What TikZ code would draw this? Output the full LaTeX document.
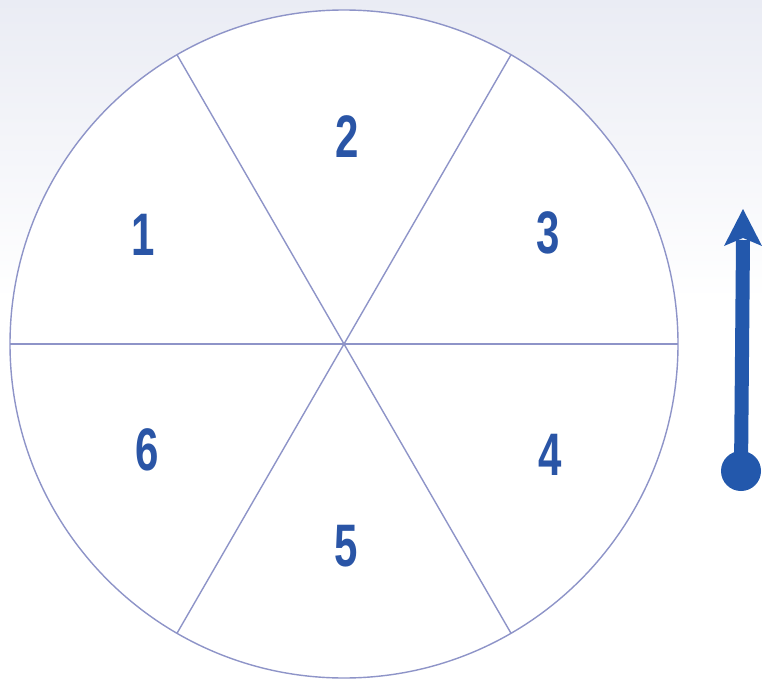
\documentclass[tikz,border=0pt]{standalone}
\usepackage{fontspec}
\setmainfont{Liberation Sans}
\usetikzlibrary{calc}
\definecolor{bgtop}{HTML}{EAECF4}
\definecolor{linec}{HTML}{8E94C8}
\definecolor{numc}{HTML}{2A55A6}
\definecolor{arrc}{HTML}{2358AC}
\begin{document}
\begin{tikzpicture}[x=1pt,y=-1pt,
  numlabel/.style={text=numc,font=\fontsize{60}{60}\selectfont\bfseries,inner sep=0pt},
  divline/.style={draw=linec,line width=1.4pt}]
\useasboundingbox (0,0) rectangle (762,679);
\shade[top color=bgtop,bottom color=white] (0,0) rectangle (762,300);
\fill[white] (0,300) rectangle (762,679);
\coordinate (c) at (344,344);
\fill[white] (c) circle[radius=334];
\foreach \a/\n in {0/e,60/a,120/b,180/w,240/d,300/f}
  \coordinate (p\n) at ($(c)+(\a:334)$);
\draw[divline] (pw) -- (pe);
\draw[divline] (pb) -- (pf);
\draw[divline] (pa) -- (pd);
\draw[divline] (c) circle[radius=334];
\node[numlabel] (n1) at (143,235) {\scalebox{0.7}[1]{1}};
\node[numlabel] (n2) at (347,137) {\scalebox{0.7}[1]{2}};
\node[numlabel] (n3) at (548,233) {\scalebox{0.7}[1]{3}};
\node[numlabel] (n4) at (550,455) {\scalebox{0.7}[1]{4}};
\node[numlabel] (n5) at (346,546) {\scalebox{0.7}[1]{5}};
\node[numlabel] (n6) at (147,450) {\scalebox{0.7}[1]{6}};
\coordinate (dot) at (741,471);
\coordinate (base) at (743,240);
\fill[arrc] (dot) circle[radius=20];
\draw[arrc,line width=14pt] (dot) -- (base);
\fill[arrc] (743,209) -- (762,246) -- (743,238) -- (724,246) -- cycle;
\end{tikzpicture}
\end{document}
